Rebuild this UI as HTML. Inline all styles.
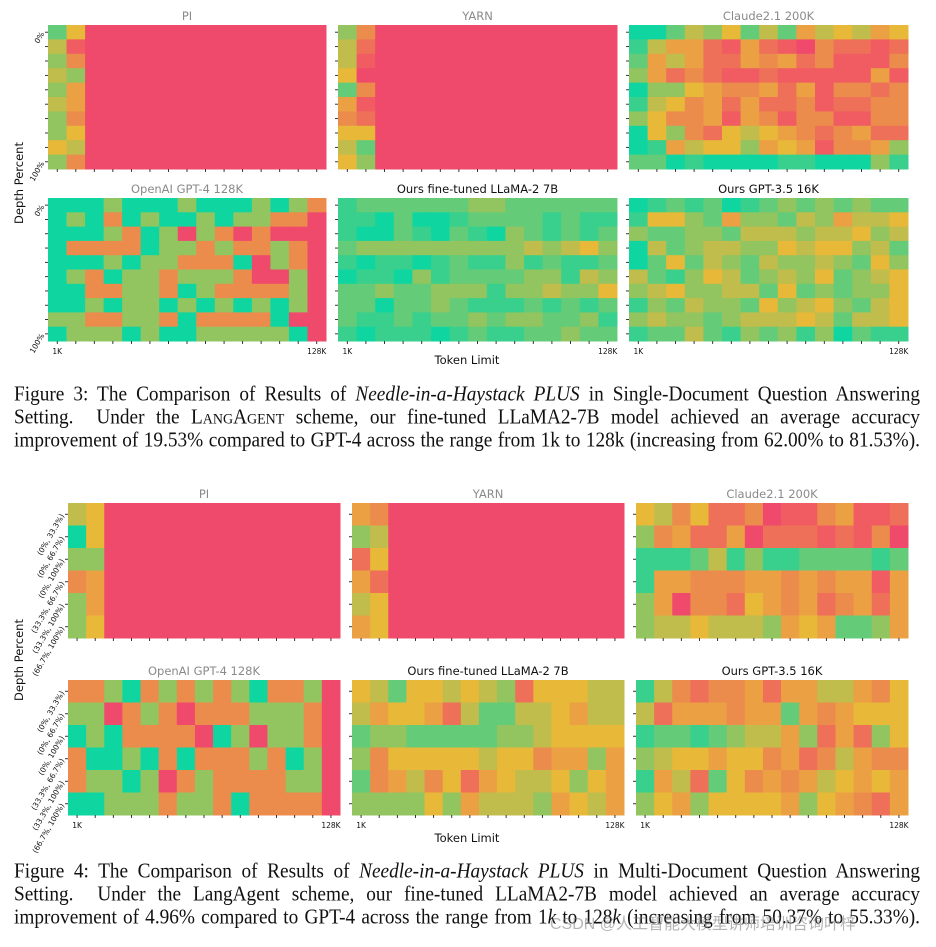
<!DOCTYPE html>
<html><head><meta charset="utf-8">
<style>
body{margin:0;background:#fff;width:936px;height:947px;overflow:hidden;position:relative}
svg{position:absolute;left:0;top:0}
.cap{position:absolute;left:14px;width:906px;font-family:"Liberation Serif",serif;font-size:19.3px;line-height:23px;color:#111}
.cap div{text-align:justify;text-align-last:justify;white-space:nowrap;height:23px;transform:scaleY(1.07)}
.sc{font-variant:small-caps}
.wm{position:absolute;left:550px;top:910px;font-family:"Liberation Sans","Noto Sans CJK SC",sans-serif;font-size:16px;color:rgba(120,120,120,0.55)}
</style></head>
<body>
<svg id="chart" width="936" height="947" xmlns="http://www.w3.org/2000/svg"></svg>
<div class="cap" style="top:383px">
<div>Figure 3: The Comparison of Results of <i>Needle-in-a-Haystack PLUS</i> in Single-Document Question Answering</div>
<div>Setting.&nbsp; Under the <span class="sc">LangAgent</span> scheme, our fine-tuned LLaMA2-7B model achieved an average accuracy</div>
<div>improvement of 19.53% compared to GPT-4 across the range from 1k to 128k (increasing from 62.00% to 81.53%).</div>
</div>
<div class="cap" style="top:860px">
<div>Figure 4: The Comparison of Results of <i>Needle-in-a-Haystack PLUS</i> in Multi-Document Question Answering</div>
<div>Setting.&nbsp; Under the LangAgent scheme, our fine-tuned LLaMA2-7B model achieved an average accuracy</div>
<div>improvement of 4.96% compared to GPT-4 across the range from 1<i>k</i> to 128<i>k</i> (increasing from 50.37% to 55.33%).</div>
</div>
<div class="wm">CSDN @人工智能大模型讲师培训咨询叶梓</div>
<script>
// colour levels: a (best, teal) ... k (worst, red)
const levelColors = ["#0fd6a0","#38d08c","#64cc78","#92c460","#c0bd4c","#e8b838","#eba044","#ec8c4c","#ee7058","#f05c62","#ef4a6c"];
const xTickLabels = ["1K","128K"];
const fig3YLabels = ["0%","100%"];
const fig4YLabels = ["(0%, 33.3%)","(0%, 66.7%)","(0%, 100%)","(33.3%, 66.7%)","(33.3%, 100%)","(66.7%, 100%)"];
const fig3Titles = ["PI","YARN","Claude2.1 200K","OpenAI GPT-4 128K","Ours fine-tuned LLaMA-2 7B","Ours GPT-3.5 16K"];
const fig4Titles = fig3Titles;

const f3PI = ["cfkkkkkkkkkkkkk","ejkkkkkkkkkkkkk","dhkkkkkkkkkkkkk","edkkkkkkkkkkkkk","dgkkkkkkkkkkkkk","egkkkkkkkkkkkkk","dhkkkkkkkkkkkkk","dfkkkkkkkkkkkkk","fekkkkkkkkkkkkk","dhkkkkkkkkkkkkk"];
const f3YARN = ["dhkkkkkkkkkkkkk","eikkkkkkkkkkkkk","ejkkkkkkkkkkkkk","fkkkkkkkkkkkkkk","chkkkkkkkkkkkkk","gjkkkkkkkkkkkkk","hikkkkkkkkkkkkk","ffkkkkkkkkkkkkk","eckkkkkkkkkkkkk","fdkkkkkkkkkkkkk"];
const f3Claude = ["aacedfcecgefegf","beggijgijkhiiji","cgegiighgihjjjh","dgihijjijjjjjgj","addfghhgigjhhih","befhgigiihjiihh","dfhhgjghjhhjjhh","afdhifefghihgii","abgeffdgfgjhhgd","ccabaaaabbaaadb"];
const f3GPT4 = ["aaadaaadaaadadh","adahadaadaddhhk","aaadhadkdhkhkkk","ahhhhaddhdhhdhk","aaadaddhhhakdhk","adhaddhdddhkkdk","aahhddhadhhhhdk","aadaddadadadadk","ddhhddhahhhhakk","adddadaadddddak"];
const f3Llama = ["bccccccddcccccc","bbacaabccccbcbb","baacbacbadcbcbc","cdddddddddedefd","babbabcbbdbcbbc","abbadbccccddbed","ccdccdddbddeddf","ccaccdcbbbcbcbc","cbbcbccdcddccdb","babbbabcbbccdcc"];
const f3GPT35 = ["abcbcabcdcdcdcc","bffdcgddcedgeef","dccddceeedeefde","aecdeeddfeffdec","acfcedceddedcfd","ecbdfecdedfcdef","defddeecfcdcddf","bdceddcfdefdcef","deddcdeeefeceef","bccecbdcdbdacbb"];
const f4PI = ["efkkkkkkkkkkkkk","afkkkkkkkkkkkkk","ddkkkkkkkkkkkkk","hgkkkkkkkkkkkkk","dgkkkkkkkkkkkkk","dfkkkkkkkkkkkkk"];
const f4YARN = ["ghkkkkkkkkkkkkk","dekkkkkkkkkkkkk","ifkkkkkkkkkkkkk","gikkkkkkkkkkkkk","efkkkkkkkkkkkkk","gfkkkkkkkkkkkkk"];
const f4Claude = ["fehfiihkjjhgjji","dhgiigkiiijijhk","bbbcebdbbccccbc","bgghhhgghghggjg","dgkhhifghgihgig","deefeeedgfgccdg"];
const f4GPT4 = ["hhdahdhdhdahhdk","ddkhdhkhhhdddhk","adahhhhkadkddhk","haadahahhhdhadk","hddadkhdhhhhddk","aadddhddhahhhhk"];
const f4Llama = ["fecffefedifffee","egffgiecceefgee","cddcccccddeffff","dhfffffeffhggdg","chgehfigfeefdfg","ddddfdgeeedgfeg"];
const f4GPT35 = ["behihhgiggeeghf","eiggghggcghgfff","bccbcdeegdigidf","deffgffhgihegh","bgeicfhghgefgfg","dfgdffffgdfghig"];

const fig3Data = [f3PI,f3YARN,f3Claude,f3GPT4,f3Llama,f3GPT35];
const fig4Data = [f4PI,f4YARN,f4Claude,f4GPT4,f4Llama,f4GPT35];

const NS="http://www.w3.org/2000/svg";
const svg=document.getElementById('chart');
function mk(tag,attrs,parent){const e=document.createElementNS(NS,tag);for(const k in attrs)e.setAttribute(k,attrs[k]);(parent||svg).appendChild(e);return e;}

function drawFigure(data,titles,yLabels,cols,rows,fig){
  data.forEach((grid,p)=>{
    const ci=p%3, ri=Math.floor(p/3);
    const [x0,x1]=cols[ci],[y0,y1]=rows[ri];
    const nR=grid.length,nC=15;
    const xs=c=>x0+(x1-x0)*c/nC, ys=r=>y0+(y1-y0)*r/nR;
    const g=mk('g',{});
    
    
    grid.forEach((row,r)=>{
      for(let c=0;c<nC;c++){
        const lvl="abcdefghijk".indexOf(row[c]||'h');
        const rc=mk('rect',{x:xs(c),y:ys(r),width:xs(c+1)-xs(c)+0.5,height:ys(r+1)-ys(r)+0.5,fill:levelColors[lvl<0?10:lvl]},g);
        
        
      }
    });
    const ours=titles[p].startsWith('Ours');
    const t=mk('text',{x:(x0+x1)/2,y:y0-5,'text-anchor':'middle','font-family':'DejaVu Sans, sans-serif','font-size':'11.5',fill:ours?'#111':'#8a8a8a'},g);
    t.textContent=titles[p];
    
    
    for(let c=0;c<nC;c++){const xc=(xs(c)+xs(c+1))/2;mk('line',{x1:xc,x2:xc,y1:y1,y2:y1+3,stroke:'#222','stroke-width':0.9},g);}
    for(let r=0;r<nR;r++){const yc=(ys(r)+ys(r+1))/2;mk('line',{x1:x0-3,x2:x0,y1:yc,y2:yc,stroke:'#222','stroke-width':0.9},g);}
    if(ri===1){
      [0,14].forEach((c,i)=>{const l=mk('text',{x:(xs(c)+xs(c+1))/2,y:y1+13,'text-anchor':'middle','font-family':'DejaVu Sans, sans-serif','font-size':'7.5',fill:'#111'},g);l.textContent=xTickLabels[i];
        });
    }
    if(ci===0){
      const idx=yLabels.length===2?[0,nR-1]:yLabels.map((_,i)=>i);
      idx.forEach((r,i)=>{const yc=(ys(r)+ys(r+1))/2;const l=mk('text',{x:x0-6,y:yc+3,'text-anchor':'end','font-family':'DejaVu Sans, sans-serif','font-size':'7.5',fill:'#111',transform:`rotate(-60 ${x0-6} ${yc})`},g);l.textContent=yLabels[i];
        });
    }
  });
}
drawFigure(fig3Data,fig3Titles,fig3YLabels,[[48,326],[338,617],[629,908]],[[25,169],[198,341]],'fig3');
drawFigure(fig4Data,fig4Titles,fig4YLabels,[[68,340],[352,624],[636,908]],[[503,638],[680,815]],'fig4');

function label(txt,x,y,rot,name){const l=mk('text',{x:x,y:y,'text-anchor':'middle','font-family':'DejaVu Sans, sans-serif','font-size':'11.5',fill:'#111'});if(rot)l.setAttribute('transform',`rotate(-90 ${x} ${y})`);l.textContent=txt;
  }
label('Depth Percent',23,183,true,'fig3-y-axis-title');
label('Token Limit',467,364,false,'fig3-x-axis-title');
label('Depth Percent',23,660,true,'fig4-y-axis-title');
label('Token Limit',467,842,false,'fig4-x-axis-title');
</script>
</body></html>
